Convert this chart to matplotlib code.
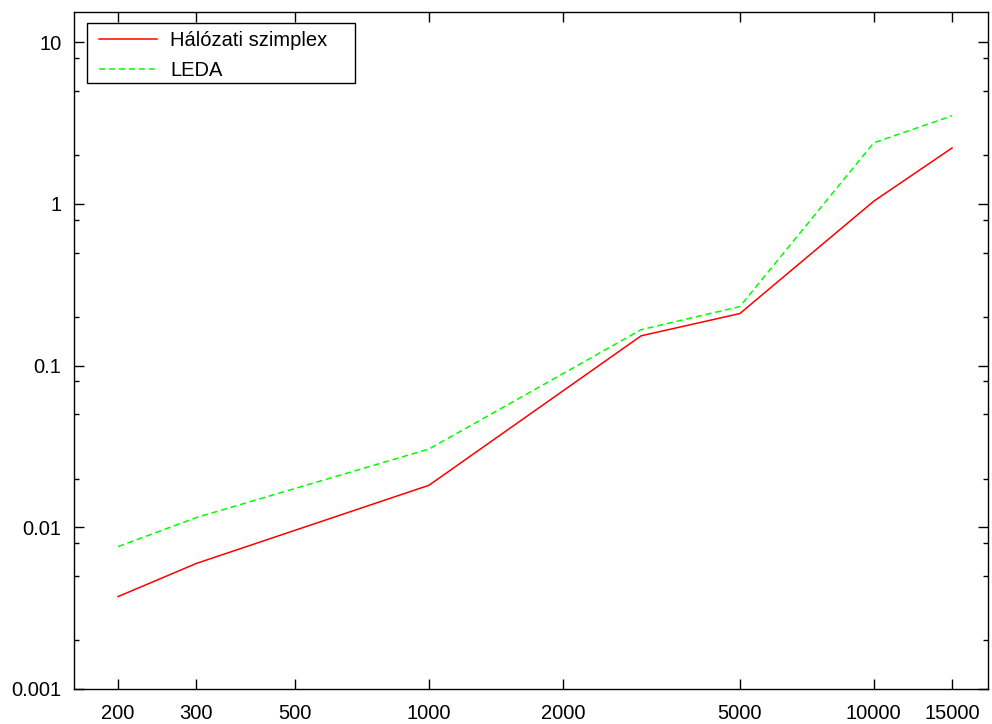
import matplotlib
matplotlib.use("Agg")
import matplotlib.pyplot as plt
from matplotlib.patches import Rectangle
from matplotlib.ticker import FixedLocator, FixedFormatter, NullFormatter

plt.rcParams['font.family'] = ['Liberation Sans', 'DejaVu Sans']

x_values = [200, 300, 1000, 3000, 5000, 10000, 15000]
halozati = [0.00373, 0.00598, 0.0182, 0.153, 0.21, 1.04, 2.22]
leda = [0.0076, 0.0115, 0.0305, 0.167, 0.232, 2.39, 3.51]

x_ticks = [200, 300, 500, 1000, 2000, 5000, 10000, 15000]
x_tick_labels = ["200", "300", "500", "1000", "2000", "5000", "10000", "15000"]
y_ticks = [0.001, 0.01, 0.1, 1, 10]
y_tick_labels = ["0.001", "0.01", "0.1", "1", "10"]
y_minor = [m * 10.0 ** e for e in range(-3, 2) for m in (2, 5, 8)]

W, H = 992, 724
fig = plt.figure(figsize=(W / 100, H / 100), dpi=100)
ax = fig.add_axes([74 / W, 1 - 689 / H, (988 - 74) / W, (689 - 12) / H])

ax.plot(x_values, halozati, color='#ff0000', lw=1.1, label='Hálózati szimplex')
ax.plot(x_values, leda, color='#00ff00', lw=1.1, dashes=(4, 2.5), label='LEDA')

ax.set_xscale('log')
ax.set_yscale('log')
ax.set_xlim(159.2, 18070)
ax.set_ylim(0.001, 15.4)

ax.xaxis.set_major_locator(FixedLocator(x_ticks))
ax.xaxis.set_major_formatter(FixedFormatter(x_tick_labels))
ax.xaxis.set_minor_locator(FixedLocator([]))
ax.yaxis.set_major_locator(FixedLocator(y_ticks))
ax.yaxis.set_major_formatter(FixedFormatter(y_tick_labels))
ax.yaxis.set_minor_locator(FixedLocator([v for v in y_minor if v < 15.4]))
ax.yaxis.set_minor_formatter(NullFormatter())

ax.tick_params(which='both', direction='in', top=True, right=True, width=1.0, colors='black', labelsize=14.5)
ax.tick_params(which='major', length=7)
ax.tick_params(which='minor', length=3.6)
ax.tick_params(axis='x', pad=10.5)
ax.tick_params(axis='y', pad=9)
for s in ax.spines.values():
    s.set_linewidth(1.0)
    s.set_color('black')

leg = ax.legend(loc='upper left', bbox_to_anchor=(0.02735, 0.9715), borderaxespad=0,
                fontsize=14.5, handlelength=2.9, handletextpad=0.62, labelspacing=0.52,
                borderpad=0, frameon=False)
ax.add_patch(Rectangle((0.0139, 0.8951), 0.2935, 0.0882, transform=ax.transAxes,
                       facecolor='white', edgecolor='black', lw=1.0, zorder=4.5))
leg.set_zorder(5)

fig.savefig('out.png', dpi=100)
